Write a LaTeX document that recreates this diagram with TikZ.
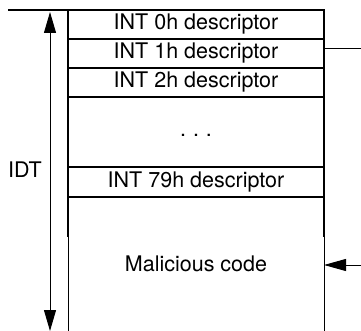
\documentclass[tikz,border=0pt]{standalone}
\usepackage{fontspec}
\setmainfont{TeX Gyre Heros}
\usetikzlibrary{arrows.meta}
\begin{document}
\begin{tikzpicture}[x=1pt,y=-1pt,
  lbl/.style={font=\fontsize{21.5}{22}\selectfont},
  row/.style={draw, line width=1.3pt, minimum width=256pt, inner sep=0pt, outer sep=0pt, anchor=north west, lbl},
  thickline/.style={line width=1.3pt},
  thinline/.style={line width=1pt},
  arr/.style={line width=1pt}
]
\useasboundingbox (0,0) rectangle (361,331);
% rows
\node[row, minimum height=29pt] (r0) at (68,10) {INT 0h descriptor};
\node[row, minimum height=29pt] (r1) at (68,39) {INT 1h descriptor};
\node[row, minimum height=29pt] (r2) at (68,68) {INT 2h descriptor};
\node[row, minimum height=70pt] (rd) at (68,97) {};
\node[lbl] (dots) at (196,135) {.\hspace{7pt}.\hspace{7pt}.};
\node[row, minimum height=30pt] (r79) at (68,167) {INT 79h descriptor};
\node[lbl, minimum width=256pt, minimum height=134pt, inner sep=0pt, outer sep=0pt, anchor=north west] (mal) at (68,197) {Malicious code};
% malicious region borders
\coordinate (mb) at (68,237);
\draw[thickline] (mal.north west) -- (mal.north east);
\draw[thickline] (mal.north west) -- (mal.west |- mb);
\draw[thickline] (mal.north east) -- (mal.east |- mb);
\draw[thinline] (mal.west |- mb) -- (mal.south west);
\draw[thinline] (mal.east |- mb) -- (mal.south east);
% top line
\coordinate (tl) at (8,10);
\draw[thickline] (tl) -- (r0.north west);
% IDT arrow
\coordinate (a1) at (50,12);
\coordinate (a2) at (50,331);
\draw[arr, {Triangle[length=21pt,width=12pt]}-{Triangle[length=21pt,width=12pt]}] (a1) -- (a2);
\node[lbl] (idt) at (25,170) {IDT};
% right connectors
\coordinate (p1) at (361,49);
\draw[arr] (r1.east |- p1) -- (p1);
\coordinate (p2) at (361,265);
\draw[arr, -{Triangle[length=22pt,width=12pt]}] (p2) -- (mal.east |- p2);
\end{tikzpicture}
\end{document}
